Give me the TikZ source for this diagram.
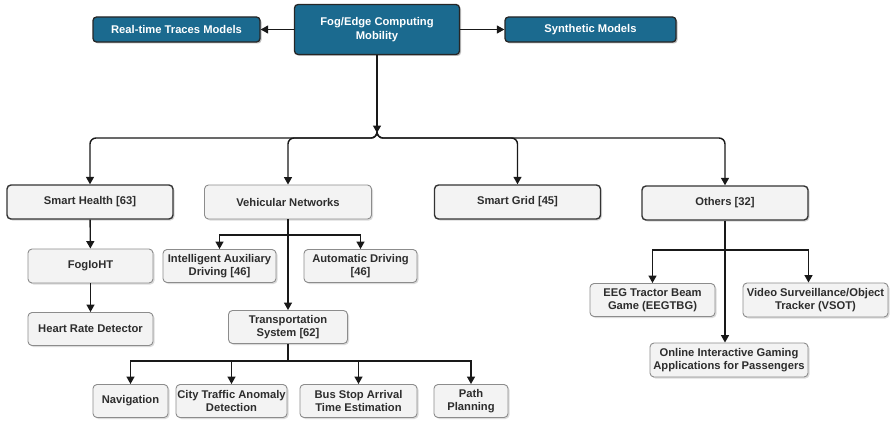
\documentclass[tikz,border=0pt]{standalone}
\usepackage{fontspec}
\setmainfont{Liberation Sans}
\usetikzlibrary{arrows.meta,shadows}
\definecolor{fogblue}{RGB}{27,106,143}
\definecolor{boxgray}{RGB}{243,243,243}
\definecolor{txtgray}{RGB}{45,45,45}

\begin{document}
\begin{tikzpicture}[x=1pt, y=-1pt, >={Triangle[length=7.5pt,width=8pt]},
  every node/.style={font=\fontsize{11.2}{13.5}\selectfont\bfseries, align=center, inner sep=0.5pt},
  topbox/.style={draw=black!85, line width=1.3pt, fill=fogblue, text=white, rounded corners=3.5pt,
    drop shadow={shadow xshift=1.5pt, shadow yshift=-1.5pt, fill=black!50, opacity=0.5}},
  catbox/.style={draw=black!80, line width=1.4pt, fill=boxgray, text=txtgray, rounded corners=4pt,
    minimum width=166pt, minimum height=34pt,
    drop shadow={shadow xshift=1.5pt, shadow yshift=-1.5pt, fill=black!40, opacity=0.4}},
  subbox/.style={draw=black!45, line width=0.9pt, fill=boxgray, text=txtgray, rounded corners=4pt,
    minimum height=33pt,
    drop shadow={shadow xshift=1.5pt, shadow yshift=-1.5pt, fill=black!35, opacity=0.4}},
  link/.style={line width=1.4pt, black!90, ->}]
  \useasboundingbox (0,0) rectangle (893,420);

  % Top row
  \node[topbox, minimum width=165pt, minimum height=50pt] (fog) at (377,29.5) {Fog/Edge Computing\\Mobility};
  \node[topbox, minimum width=167pt, minimum height=25pt] (real) at (176.5,29.5) {Real-time Traces Models};
  \node[topbox, minimum width=171pt, minimum height=25pt] (synth) at (590.5,29.5) {Synthetic Models};
  \draw[link] (fog) -- (real);
  \draw[link] (fog) -- (synth);

  % Application areas
  \node[catbox] (health) at (90,202) {Smart Health [63]};
  \node[subbox, minimum width=167pt, minimum height=34pt] (veh) at (288,202) {Vehicular Networks};
  \node[catbox] (grid) at (517.5,202) {Smart Grid [45]};
  \node[catbox] (others) at (725,203) {Others [32]};

  \coordinate (junc) at (377,133);
  \coordinate (bus) at (377,138);
  \draw[link] (fog) -- (junc);
  \foreach \n in {health,veh,grid,others}
    \draw[link, rounded corners=6pt] (junc) |- (bus -| \n.north) -- (\n.north);

  % Smart health
  \node[subbox, minimum width=125pt, minimum height=34pt] (fogioht) at (90.5,266) {FogIoHT};
  \node[subbox, minimum width=125pt] (heart) at (90.5,329) {Heart Rate Detector};
  \draw[link] (health) -- (fogioht);
  \draw[link] (fogioht) -- (heart);

  % Vehicular networks
  \node[subbox, minimum width=113pt] (iad) at (219.5,266) {Intelligent Auxiliary\\Driving [46]};
  \node[subbox, minimum width=113pt] (auto) at (360.5,266) {Automatic Driving\\{[46]}};
  \node[subbox, minimum width=119pt] (trans) at (288,327) {Transportation\\System [62]};
  \coordinate (vj) at (288,235);
  \draw[link] (veh) -- (trans);
  \draw[link] (vj) -| (iad.north);
  \draw[link] (vj) -| (auto.north);

  % Transportation system
  \node[subbox, minimum width=75pt] (nav) at (130.5,401) {Navigation};
  \node[subbox, minimum width=111pt] (city) at (231.5,401) {City Traffic Anomaly\\Detection};
  \node[subbox, minimum width=117pt] (busstop) at (358.5,401) {Bus Stop Arrival\\Time Estimation};
  \node[subbox, minimum width=74pt] (path) at (471,401) {Path\\Planning};
  \coordinate (tj) at (288,361);
  \draw[line width=1.4pt, black!90] (trans) -- (tj);
  \foreach \n in {nav,city,busstop,path}
    \draw[link] (tj) -| (\n.north);

  % Others
  \node[subbox, minimum width=125pt] (eeg) at (652.5,300) {EEG Tractor Beam\\Game (EEGTBG)};
  \node[subbox, minimum width=145pt, minimum height=34pt] (video) at (815.5,300) {Video Surveillance/Object\\Tracker (VSOT)};
  \node[subbox, minimum width=158pt, minimum height=34pt] (online) at (729,360) {Online Interactive Gaming\\Applications for Passengers};
  \coordinate (oj) at (725,250);
  \draw[link] (others) -- (others |- online.north);
  \draw[link] (oj) -| (eeg.north);
  \draw[link] (oj) -| ([xshift=-7pt]video.north);
\end{tikzpicture}
\end{document}
